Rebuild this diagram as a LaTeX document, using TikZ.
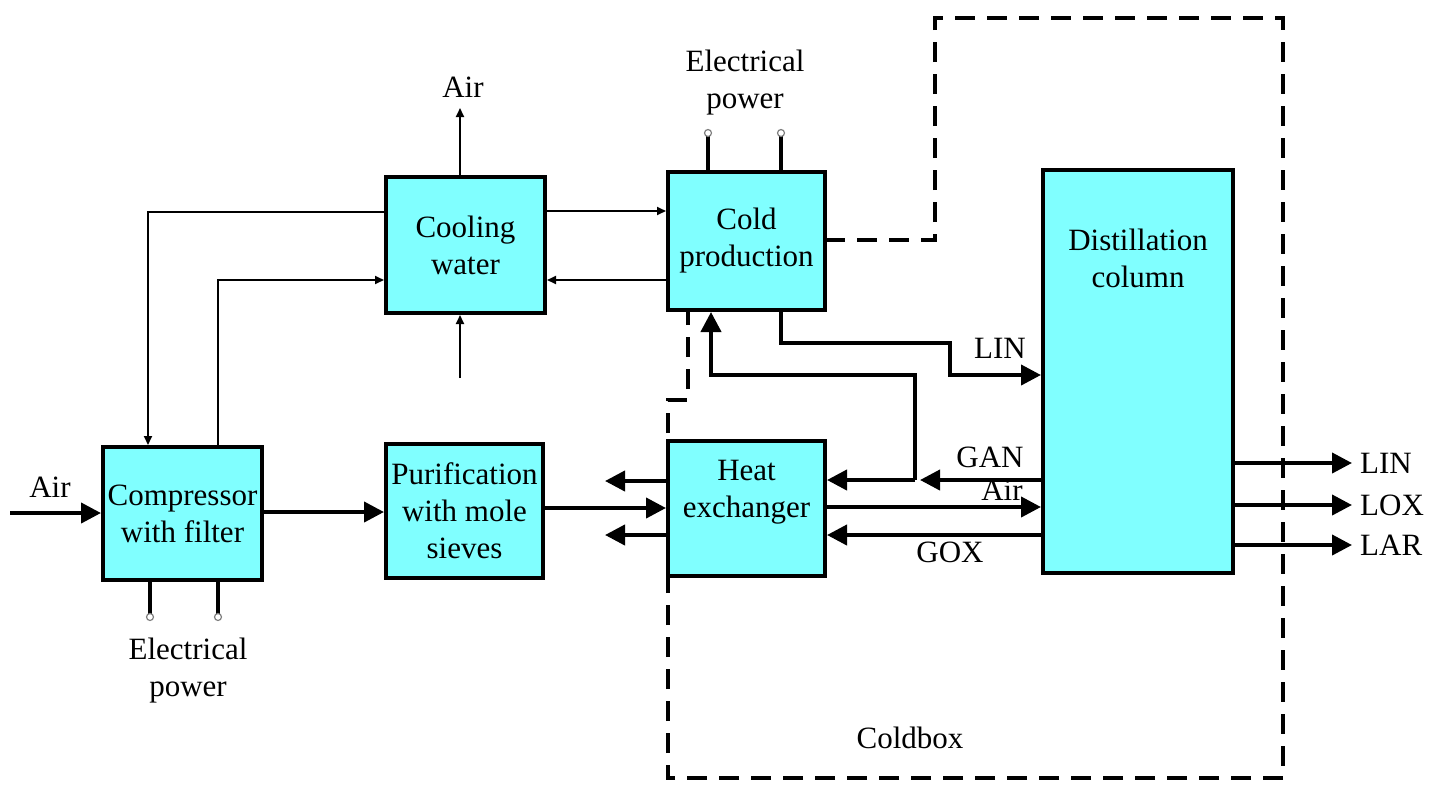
\documentclass[tikz,border=0pt]{standalone}
\usepackage{fontspec}
\setmainfont{Liberation Serif}
\usetikzlibrary{arrows.meta,calc}
\definecolor{boxcyan}{RGB}{128,255,255}
\begin{document}
\begin{tikzpicture}[x=1pt,y=-1pt,
 box/.style={draw=black,line width=4pt,fill=boxcyan,inner sep=0pt,align=center,font=\fontsize{31}{37}\selectfont},
 btext/.style={align=center,font=\fontsize{31}{37}\selectfont,inner sep=0pt},
 lbl/.style={font=\fontsize{31}{37}\selectfont,inner sep=0pt,align=center},
 thinarrow/.style={line width=1.8pt,-{Triangle[length=9pt,width=8pt]}},
 thickarrow/.style={line width=4pt,-{Triangle[length=20pt,width=20pt]}},
 stub/.style={line width=4pt},
 plug/.style={draw=gray,fill=white,line width=1.2pt},
 coldline/.style={line width=4pt,dash pattern=on 20pt off 12pt}]
\useasboundingbox (0,0) rectangle (1445,785);

% boxes (positions only)
\path (182.5,513.5) coordinate (compc)
      (464.5,511) coordinate (purc)
      (465.5,245) coordinate (cwc)
      (746.5,241) coordinate (cpc)
      (746.5,508.5) coordinate (hxc)
      (1138,371.5) coordinate (dcc);

% coldbox dashed boundary (drawn first)
\draw[coldline] (825,240) -- (935,240) -- (935,18) -- (1283,18) -- (1283,778) -- (668,778) -- (668,400) -- (688,400) -- (688,310);

\node[box,minimum width=159pt,minimum height=133pt] (comp) at (compc) {Compressor\\with filter};
\node[box,minimum width=157pt,minimum height=134pt] (pur) at (purc) {Purification\\with mole\\sieves};
\node[box,minimum width=159pt,minimum height=136pt] (cw) at (cwc) {Cooling\\water};
\node[box,minimum width=157pt,minimum height=138pt] (cp) at (cpc) {Cold\\production};
\node[box,minimum width=157pt,minimum height=135pt,
      label={[btext,yshift=16pt]center:Heat\\exchanger}] (hx) at (hxc) {};
\node[box,minimum width=190pt,minimum height=403pt,
      label={[btext,anchor=north,yshift=-61pt]north:Distillation\\column}] (dc) at (dcc) {};

% free ends
\coordinate (airin) at (10,513);
\coordinate (airout) at (460,108);
\coordinate (cwin) at (460,378);
\coordinate (gj) at (915,480);
\coordinate (hxo1) at (605,481);
\coordinate (hxo2) at (605,535);
\coordinate (o1) at (1352,463);
\coordinate (o2) at (1352,505);
\coordinate (o3) at (1352,545);
\coordinate (ep1) at (708,133);
\coordinate (ep2) at (781,133);
\coordinate (ep3) at (150,617);
\coordinate (ep4) at (218,617);

% main air line
\draw[thickarrow] (airin) -- (comp.west |- airin);
\draw[thickarrow] (comp.east |- 0,512) -- (pur.west |- 0,512);

% cooling water
\draw[thinarrow] (cw.north -| airout) -- (airout);
\draw[thinarrow] (cwin) -- (cwin |- cw.south);
\draw[thinarrow] (cw.west |- 0,212) -| (comp.north -| 148,0);
\draw[thinarrow] (comp.north -| 218,0) |- (cw.west |- 0,280);
\draw[thinarrow] (cw.east |- 0,211) -- (cp.west |- 0,211);
\draw[thinarrow] (cp.west |- 0,280) -- (cw.east |- 0,280);

% electrical power stubs
\draw[stub] (cp.north -| ep1) -- (ep1);
\draw[stub] (cp.north -| ep2) -- (ep2);
\draw[stub] (comp.south -| ep3) -- (ep3);
\draw[stub] (comp.south -| ep4) -- (ep4);
\foreach \p in {ep1,ep2,ep3,ep4} \draw[plug] (\p) circle (3.5pt);

% cold production <-> distillation
\draw[thickarrow] (cp.south -| 781,0) |- (950,343) |- (dc.west |- 0,375);
\draw[thickarrow] (gj) |- (711,375) -- (cp.south -| 711,0);

% heat exchanger <-> distillation
\draw[thickarrow] (dc.west |- 0,480) -- (920,480);
\draw[thickarrow] (gj) -- (hx.east |- gj);
\draw[thickarrow] (hx.east |- 0,507) -- (dc.west |- 0,507);
\draw[thickarrow] (dc.west |- 0,535) -- (hx.east |- 0,535);

% heat exchanger left side
\draw[thickarrow] (hx.west |- hxo1) -- (hxo1);
\draw[thickarrow] (pur.east |- 0,508) -- (hx.west |- 0,508);
\draw[thickarrow] (hx.west |- hxo2) -- (hxo2);

% products
\draw[thickarrow] (dc.east |- o1) -- (o1);
\draw[thickarrow] (dc.east |- o2) -- (o2);
\draw[thickarrow] (dc.east |- o3) -- (o3);

% labels
\node[lbl] (lairin) at (50,487) {Air};
\node[lbl] (lairout) at (463,87) {Air};
\node[lbl] (lep1) at (745,83) {Electrical\\power};
\node[lbl] (lep2) at (188,671) {Electrical\\power};
\node[lbl] (llin) at (1000,348) {LIN};
\node[lbl] (lgan) at (990,457) {GAN};
\node[lbl] (lair) at (1002,490) {Air};
\node[lbl] (lgox) at (950,552) {GOX};
\node[lbl,anchor=west] (lo1) at (1360,463) {LIN};
\node[lbl,anchor=west] (lo2) at (1360,505) {LOX};
\node[lbl,anchor=west] (lo3) at (1360,545) {LAR};
\node[lbl] (lcb) at (910,738) {Coldbox};
\end{tikzpicture}
\end{document}
